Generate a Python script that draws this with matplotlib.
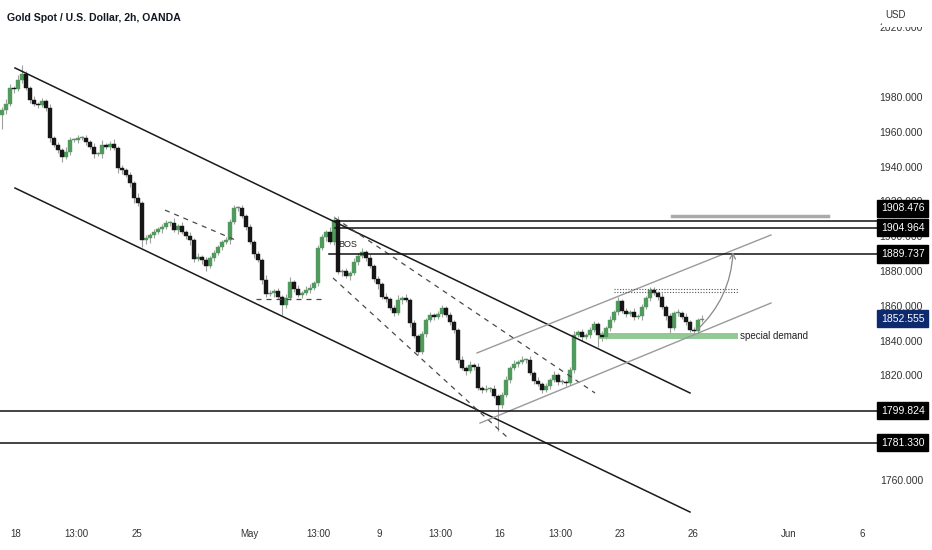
import matplotlib.pyplot as plt
import matplotlib.patches as mpatches
import numpy as np

plt.rcParams['font.family'] = ['Liberation Sans', 'DejaVu Sans']

# 2h candles, XAUUSD, Apr 18 -> May 26
first_open = 1969.5
closes = [
    1972.5, 1976.0, 1985.2, 1984.5, 1989.8, 1993.2, 1985.2, 1978.3, 1976.0, 1975.4,
    1977.7, 1973.7, 1956.4, 1952.4, 1949.6, 1945.5, 1948.4, 1955.3, 1955.3, 1956.4,
    1956.4, 1954.2, 1951.3, 1947.2, 1947.2, 1952.4, 1951.3, 1952.9, 1950.7, 1939.2,
    1938.0, 1935.1, 1930.5, 1921.9, 1919.1, 1897.8, 1898.9, 1900.7, 1902.4, 1904.1,
    1905.3, 1907.6, 1907.6, 1903.5, 1905.9, 1902.4, 1900.2, 1897.8, 1886.9, 1888.1,
    1886.3, 1882.9, 1887.5, 1890.3, 1893.8, 1896.7, 1897.8, 1908.1, 1916.2, 1916.2,
    1911.6, 1905.3, 1896.7, 1889.7, 1886.3, 1874.8, 1866.8, 1867.3, 1868.5, 1865.1,
    1860.5, 1864.5, 1873.7, 1869.7, 1866.2, 1867.3, 1869.1, 1870.3, 1873.1, 1893.2,
    1899.5, 1902.4, 1896.7, 1909.4, 1879.4, 1880.0, 1877.1, 1878.9, 1885.2, 1888.6,
    1891.0, 1887.5, 1882.9, 1875.4, 1872.5, 1865.1, 1864.0, 1858.7, 1855.9, 1863.3,
    1864.5, 1863.3, 1850.1, 1842.7, 1833.5, 1843.8, 1851.9, 1854.7, 1853.6, 1855.3,
    1858.7, 1854.7, 1850.7, 1846.1, 1828.9, 1824.3, 1822.5, 1826.0, 1824.9, 1812.8,
    1811.7, 1812.2, 1812.2, 1808.2, 1803.0, 1808.7, 1817.4, 1824.3, 1826.6, 1827.7,
    1828.9, 1828.9, 1821.4, 1816.8, 1815.0, 1811.7, 1813.9, 1817.4, 1820.3, 1816.2,
    1816.2, 1815.7, 1823.1, 1843.3, 1844.9, 1842.0, 1843.3, 1846.1, 1849.5, 1843.3,
    1842.0, 1847.3, 1851.9, 1856.5, 1862.8, 1857.0, 1855.3, 1856.5, 1853.6, 1854.1,
    1859.3, 1864.5, 1869.0, 1867.3, 1865.1, 1859.3, 1854.1, 1847.3, 1855.9, 1855.9,
    1853.6, 1850.7, 1846.1, 1845.5, 1851.9, 1852.6,
]
wick_up = [
    2, 3, 2, 1, 3, 5, 2, 1, 2, 1,
    2, 1, 2, 1, 2, 1, 3, 2, 1, 2,
    1, 2, 1, 2, 1, 3, 1, 2, 3, 1,
    2, 1, 2, 1, 3, 1, 2, 1, 2, 1,
    2, 2, 1, 3, 1, 2, 1, 2, 1, 2,
    1, 2, 1, 2, 1, 1, 2, 2, 2, 1,
    2, 1, 2, 1, 2, 1, 3, 2, 1, 2,
    1, 2, 3, 1, 2, 1, 2, 2, 1, 2,
    2, 1, 3, 2, 2, 1, 2, 1, 2, 2,
    2, 1, 2, 1, 2, 1, 2, 1, 2, 3,
    1, 2, 1, 2, 1, 2, 1, 2, 1, 2,
    2, 1, 2, 1, 1, 2, 1, 2, 1, 2,
    1, 2, 1, 2, 1, 2, 2, 1, 2, 1,
    2, 1, 2, 1, 2, 1, 2, 1, 2, 1,
    2, 1, 2, 2, 1, 2, 1, 2, 2, 1,
    2, 1, 2, 1, 2, 1, 2, 1, 2, 1,
    2, 1, 2, 2, 1, 2, 1, 2, 1, 2,
    1, 2, 1, 2, 1, 2,
]
wick_dn = [
    8, 2, 1, 2, 1, 2, 1, 2, 1, 2,
    1, 2, 2, 1, 2, 3, 1, 2, 1, 2,
    1, 2, 1, 2, 1, 2, 1, 2, 1, 3,
    2, 1, 2, 3, 2, 4, 2, 3, 2, 1,
    2, 1, 2, 1, 2, 1, 2, 3, 2, 1,
    2, 3, 1, 2, 1, 2, 1, 2, 1, 2,
    1, 2, 1, 2, 1, 2, 2, 1, 2, 1,
    6, 2, 1, 2, 1, 2, 1, 2, 1, 2,
    1, 2, 1, 2, 1, 2, 1, 2, 1, 2,
    1, 2, 1, 2, 3, 1, 2, 1, 2, 1,
    2, 1, 2, 1, 2, 1, 2, 1, 2, 1,
    2, 1, 2, 2, 2, 1, 2, 1, 2, 1,
    2, 1, 2, 1, 15, 2, 1, 2, 1, 2,
    1, 2, 1, 2, 1, 2, 1, 2, 1, 2,
    1, 2, 1, 2, 1, 2, 1, 2, 1, 7,
    2, 1, 2, 1, 2, 1, 2, 1, 2, 1,
    2, 1, 2, 1, 2, 1, 2, 3, 1, 2,
    1, 2, 1, 2, 1, 1,
]

# time axis labels (bar index) and price levels
time_pos = [3.5, 18.5, 33.75, 61.75, 79, 94.25, 109.5, 124.5, 139.5, 154.5, 172.75, 196.75, 215]
time_labels = ['18', '13:00', '25', 'May', '13:00', '9', '13:00', '16', '13:00', '23', '26', 'Jun', '6']
price_ticks = [1760, 1820, 1840, 1860, 1880, 1900, 1920, 1940, 1960, 1980, 2020]
levels = [1908.476, 1904.964, 1889.737, 1799.824, 1781.330]
level_start = [83.25, 83.25, 81.75, -0.5, -0.5]
flag_at = [1916.0, 1904.964, 1889.737, 1799.824, 1781.330]
last_price = 1852.555

fig = plt.figure(figsize=(9.32, 5.5), dpi=100)
ax = fig.add_axes([0, 30 / 550, 882 / 932, 520 / 550])
ax.set_xlim(-0.5, 220)
ax.set_ylim(1736.9, 2035.75)

# candles
x = np.arange(len(closes))
opens = np.array([first_open] + closes[:-1])
c = np.array(closes)
top = np.maximum(opens, c)
bot = np.minimum(opens, c)
highs = top + np.array(wick_up)
lows = bot - np.array(wick_dn)
up = c >= opens
ax.vlines(x, lows, highs, color='#a0a0a0', lw=0.8, zorder=2)
h = np.maximum(top - bot, 0.5)
ax.bar(x[up], h[up], bottom=bot[up], width=0.78, color='#4f9a5c', edgecolor='#4f9a5c', lw=0.3, zorder=3)
ax.bar(x[~up], h[~up], bottom=bot[~up], width=0.78, color='#161616', edgecolor='#161616', lw=0.3, zorder=3)

# descending channel
ax.plot([3.25, 172], [1996.7, 1809.9], color='#1a1a1a', lw=1.1, zorder=4)
ax.plot([3.25, 172], [1927.7, 1741.5], color='#1a1a1a', lw=1.1, zorder=4)

# dashed structure
dash = dict(color='#4a4a4a', lw=0.9, ls=(0, (4, 4)), zorder=4)
ax.plot([40.75, 59], [1915.0, 1897.2], **dash)
ax.plot([63.5, 80], [1863.9, 1863.9], **dash)
ax.plot([83.25, 148.25], [1910.5, 1809.9], **dash)
ax.plot([82.75, 126.25], [1876.0, 1784.6], **dash)

# rising channel
ax.plot([118.75, 192.25], [1832.9, 1900.7], color='#9a9a9a', lw=1.0, zorder=4)
ax.plot([119.5, 192.25], [1792.6, 1861.6], color='#9a9a9a', lw=1.0, zorder=4)

# horizontal levels
for lv, st in zip(levels, level_start):
    ax.plot([st, 220], [lv, lv], color='#111111', lw=1.1, zorder=4)
ax.plot([167.5, 206.5], [1911.4, 1911.4], color='#aaaaaa', lw=2.5, zorder=4)

# dotted highs
for lv in [1869.7, 1867.9]:
    ax.plot([153, 184], [lv, lv], color='#555555', lw=0.8, ls=(0, (1, 1.5)), zorder=4)

# demand zone
ax.fill_between([149, 184], 1840.9, 1844.4, color='#86c48a', alpha=0.9, lw=0, zorder=2.5)
ax.text(184.5, 1842.7, 'special demand', fontsize=7, color='#222222', va='center', ha='left')
ax.text(84, 1895.5, 'BOS', fontsize=6.5, color='#222222', va='center', ha='left')

# projected move
ax.annotate('', xy=(182.75, 1890.9), xytext=(173.75, 1846.1),
            arrowprops=dict(arrowstyle='->', color='#888888', lw=0.9,
                            connectionstyle='arc3,rad=0.2', shrinkA=0, shrinkB=0), zorder=5)

# axes styling
for s in ax.spines.values():
    s.set_visible(False)
ax.set_xticks([])
ax.yaxis.tick_right()
ax.set_yticks(price_ticks)
ax.set_yticklabels([f'{v:.3f}' for v in price_ticks])
ax.tick_params(axis='y', length=0, pad=29.5, labelsize=7.5, labelcolor='#333333')
for lab in ax.get_yticklabels():
    lab.set_horizontalalignment('right')

for pos, lab in zip(time_pos, time_labels):
    ax.text(pos, -0.027, lab, transform=ax.get_xaxis_transform(), ha='center', va='center',
            fontsize=7, color='#333333', clip_on=False)

# price flags
for lv, fy in zip(levels, flag_at):
    ax.text(1.0235, fy, f'{lv:.3f}', transform=ax.get_yaxis_transform(), ha='center', va='center',
            fontsize=7.5, color='white', clip_on=False, zorder=10,
            bbox=dict(boxstyle='square,pad=0.35', fc='black', ec='black'))
ax.text(1.0235, last_price, f'{last_price:.3f}', transform=ax.get_yaxis_transform(), ha='center',
        va='center', fontsize=7.5, color='white', clip_on=False, zorder=10,
        bbox=dict(boxstyle='square,pad=0.35', fc='#0e2a6e', ec='#0e2a6e'))

# currency header covers the top of the price scale
fig.patches.append(mpatches.Rectangle((882 / 932, 1 - 27 / 550), 50 / 932, 27 / 550,
                                      transform=fig.transFigure, fc='white', ec='none', zorder=20))
fig.text(885 / 932, 1 - 15 / 550, 'USD', fontsize=7, color='#333333', va='center', zorder=21)
fig.text(7 / 932, 1 - 18 / 550, 'Gold Spot / U.S. Dollar, 2h, OANDA', fontsize=7.6,
         fontweight='semibold', color='#131722', va='center')

fig.savefig('out.png', dpi=100, facecolor='white')
